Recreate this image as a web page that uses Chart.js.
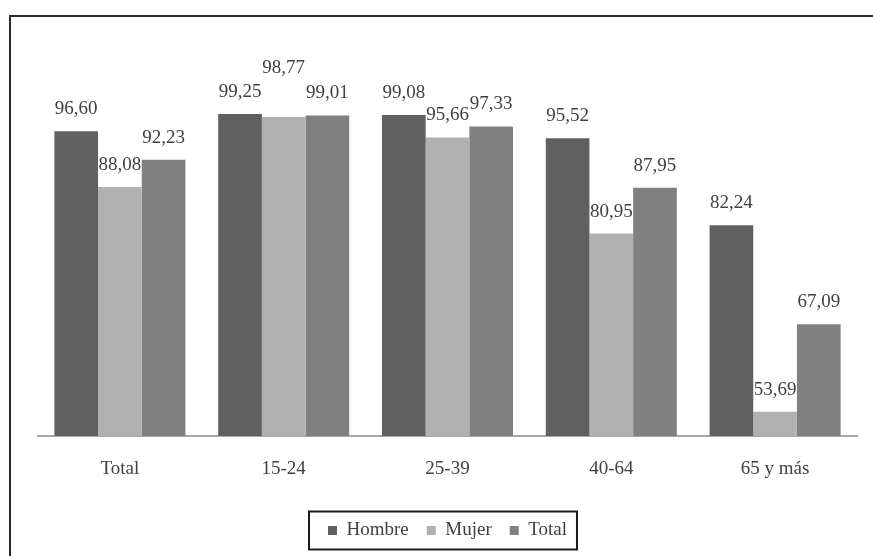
<!DOCTYPE html>
<html>
<head>
<meta charset="utf-8">
<script src="https://cdn.jsdelivr.net/npm/chart.js@4/dist/chart.umd.min.js"></script>
<style>
  html, body { margin: 0; padding: 0; background: #fff; }
  #wrap { width: 873px; height: 556px; }
</style>
</head>
<body>
<div id="wrap"><canvas id="chart" width="873" height="556"></canvas></div>
<script>
// categories and series
const categories = ["Total", "15-24", "25-39", "40-64", "65 y más"]
const seriesNames = ["Hombre", "Mujer", "Total"]
const hombre = [96.60, 99.25, 99.08, 95.52, 82.24]
const mujer = [88.08, 98.77, 95.66, 80.95, 53.69]
const total = [92.23, 99.01, 97.33, 87.95, 67.09]
const seriesColors = ["#606060", "#b1b1b1", "#808080"]

const serif = "'Liberation Serif', 'DejaVu Serif', serif"
const textColor = "#404040"

// outer frame, only left and top edges are inside the picture
const framePlugin = {
    id: "frame",
    beforeDraw(chart) {
        const ctx = chart.ctx
        ctx.save()
        ctx.strokeStyle = "#2a2a2a"
        ctx.lineWidth = 2
        ctx.strokeRect(10, 16, 900, 600)
        ctx.restore()
    }
}

// numbers above the bars, with comma decimals
const valueLabels = {
    id: "valueLabels",
    afterDatasetsDraw(chart) {
        const ctx = chart.ctx
        ctx.save()
        ctx.font = "19px " + serif
        ctx.fillStyle = textColor
        ctx.textAlign = "center"
        ctx.textBaseline = "alphabetic"
        chart.data.datasets.forEach((dataset, d) => {
            const meta = chart.getDatasetMeta(d)
            meta.data.forEach((bar, i) => {
                let lift = 17
                // this one sits higher so it doesn't touch its neighbours
                if (d === 1 && i === 1) lift = 44
                const txt = dataset.data[i].toFixed(2).replace(".", ",")
                ctx.fillText(txt, bar.x, bar.y - lift)
            })
        })
        ctx.restore()
    }
}

// thin black box round the legend
const legendBox = {
    id: "legendBox",
    afterDraw(chart) {
        const boxes = chart.legend && chart.legend.legendHitBoxes
        if (!boxes || !boxes.length) return
        const left = Math.min(...boxes.map(b => b.left)) - 19
        const right = Math.max(...boxes.map(b => b.left + b.width)) + 10
        const mid = boxes[0].top + boxes[0].height / 2
        const ctx = chart.ctx
        ctx.save()
        ctx.strokeStyle = "#1a1a1a"
        ctx.lineWidth = 2
        ctx.strokeRect(left, mid - 19, right - left, 38)
        ctx.restore()
    }
}

const ctx = document.getElementById("chart").getContext("2d")
const myChart = new Chart(ctx, {
    type: "bar",
    data: {
        labels: categories,
        datasets: [hombre, mujer, total].map((values, k) => ({
            label: seriesNames[k],
            data: values,
            backgroundColor: seriesColors[k],
            borderWidth: 0,
            categoryPercentage: 0.8,
            barPercentage: 1.0
        }))
    },
    options: {
        responsive: false,
        animation: false,
        layout: {
            padding: { left: 38, right: 16, top: 109, bottom: 6 }
        },
        scales: {
            x: {
                grid: { display: false, drawTicks: false },
                border: { display: true, color: "#a8a8a8", width: 2 },
                ticks: {
                    color: textColor,
                    font: { family: serif, size: 19 },
                    padding: 22
                },
                afterFit(scale) {
                    scale.height = 67
                }
            },
            y: {
                display: false,
                min: 50,
                max: 100
            }
        },
        plugins: {
            tooltip: { enabled: false },
            legend: {
                position: "bottom",
                labels: {
                    boxWidth: 9,
                    boxHeight: 9,
                    padding: 18,
                    color: textColor,
                    font: { family: serif, size: 19 }
                }
            }
        }
    },
    plugins: [framePlugin, valueLabels, legendBox]
})
</script>
</body>
</html>
